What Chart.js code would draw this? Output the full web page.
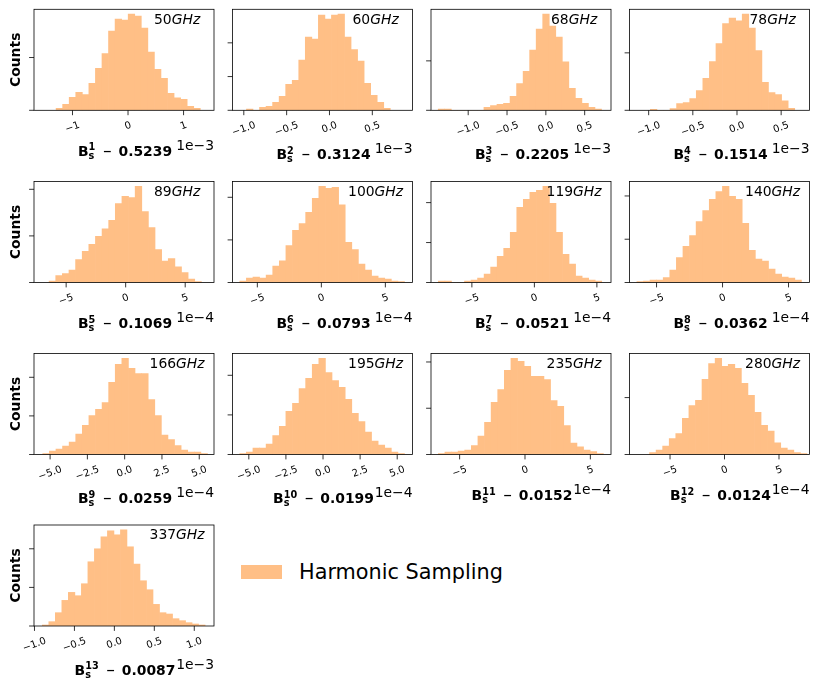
<!DOCTYPE html>
<html>
<head>
<meta charset="utf-8">
<script src="https://cdn.jsdelivr.net/npm/chart.js@4.4.0/dist/chart.umd.min.js"></script>
<style>
  html, body { margin: 0; padding: 0; background: #fff; }
  #fig { position: relative; width: 819px; height: 692px; overflow: hidden; }
  #fig canvas { position: absolute; left: 0; top: 0; }
  #legendPatch { position: absolute; left: 241px; top: 565px; width: 41px; height: 14px; }
  #legendText { position: absolute; left: 299px; top: 560px; line-height: 24px; font: 20.8px "DejaVu Sans"; color: #000; white-space: nowrap; }
</style>
</head>
<body>
<div id="fig">
  <div id="legendPatch"></div>
  <div id="legendText">Harmonic Sampling</div>
</div>
<script>
// per-panel data (x values are in units of 10^-exponent)
const freqs = ['50', '60', '68', '78', '89', '100', '119', '140', '166', '195', '235', '280', '337'];
const shifts = ['0.5239', '0.3124', '0.2205', '0.1514', '0.1069', '0.0793', '0.0521', '0.0362', '0.0259', '0.0199', '0.0152', '0.0124', '0.0087'];
const exponents = ['3', '3', '3', '3', '4', '4', '4', '4', '4', '4', '4', '4', '3'];
const xMin = [-1.693, -1.132, -1.479, -1.217, -7.70, -6.94, -8.27, -7.05, -6.08, -6.10, -7.19, -8.72, -1.006];
const xMax = [1.548, 0.969, 0.839, 0.821, 7.42, 7.12, 6.13, 6.59, 5.99, 6.03, 6.58, 7.80, 1.247];
const binStart = [-1.295, -0.969, -1.386, -0.981, -6.43, -6.37, -7.68, -6.49, -5.49, -5.61, -6.63, -6.88, -0.902];
const binWidth = [0.118, 0.0763, 0.0841, 0.0743, 0.556, 0.5146, 0.5227, 0.4987, 0.4417, 0.444, 0.505, 0.602, 0.0815];
const counts = [
  [6, 18, 39, 54, 47, 81, 126, 170, 237, 273, 270, 288, 282, 246, 174, 123, 96, 51, 37, 33, 12, 6],
  [4, 0, 9, 12, 24, 42, 78, 90, 150, 219, 213, 285, 273, 285, 288, 219, 182, 147, 81, 45, 24, 6],
  [4, 4, 0, 0, 0, 0, 0, 9, 14, 18, 21, 42, 80, 117, 180, 243, 288, 252, 219, 145, 66, 36, 21, 9, 4],
  [3, 0, 0, 5, 20, 23, 35, 59, 96, 146, 200, 260, 276, 268, 288, 246, 179, 84, 53, 47, 28, 6],
  [4, 21, 27, 37, 69, 94, 115, 139, 161, 187, 237, 259, 255, 289, 213, 165, 99, 64, 72, 47, 30, 10, 3],
  [4, 13, 16, 13, 22, 49, 65, 111, 157, 177, 211, 253, 289, 283, 286, 233, 121, 99, 55, 37, 19, 13, 10, 4, 3],
  [4, 4, 0, 0, 4, 7, 13, 25, 46, 79, 103, 151, 226, 250, 271, 277, 289, 238, 151, 85, 55, 19, 13, 7, 4],
  [3, 4, 7, 7, 15, 37, 75, 109, 141, 183, 216, 250, 273, 289, 259, 250, 178, 97, 70, 64, 40, 25, 16, 13, 7],
  [3, 10, 16, 25, 37, 61, 88, 117, 136, 156, 217, 271, 289, 259, 243, 243, 165, 117, 58, 45, 27, 13, 7, 7, 3],
  [3, 7, 19, 19, 31, 57, 85, 130, 154, 198, 229, 271, 289, 246, 222, 202, 166, 124, 99, 67, 40, 28, 19, 7, 3],
  [3, 7, 7, 10, 13, 27, 55, 97, 157, 195, 253, 289, 280, 265, 235, 235, 225, 162, 145, 87, 34, 23, 13, 9, 3],
  [6, 13, 25, 48, 63, 109, 147, 163, 226, 273, 289, 265, 271, 259, 214, 178, 127, 88, 70, 35, 19, 13, 6, 3],
  [3, 13, 40, 77, 101, 91, 127, 193, 232, 268, 286, 274, 289, 238, 186, 136, 109, 65, 40, 36, 22, 16, 10, 6, 3]
];
const xTickLabels = [
  ['\u22121', '0', '1'],
  ['\u22121.0', '\u22120.5', '0.0', '0.5'],
  ['\u22121.0', '\u22120.5', '0.0', '0.5'],
  ['\u22121.0', '\u22120.5', '0.0', '0.5'],
  ['\u22125', '0', '5'],
  ['\u22125', '0', '5'],
  ['\u22125', '0', '5'],
  ['\u22125', '0', '5'],
  ['\u22125.0', '\u22122.5', '0.0', '2.5', '5.0'],
  ['\u22125.0', '\u22122.5', '0.0', '2.5', '5.0'],
  ['\u22125', '0', '5'],
  ['\u22125', '0', '5'],
  ['\u22121.0', '\u22120.5', '0.0', '0.5', '1.0']
];
const yTickValues = [
  [0, 158], [0, 101, 202], [0, 148], [0, 172],
  [0, 140, 280], [0, 128, 256], [0, 120, 240], [0, 130, 260],
  [0, 116, 232], [0, 119, 238], [0, 139, 278], [0, 171],
  [0, 116, 232]
];
const seriesName = 'Harmonic Sampling';

// layout / style
const FIG_W = 819, FIG_H = 692;
const colLeft = [34, 232.5, 431, 629.5];
const rowTop = [9.3, 181.5, 353.5, 525];
const AX_W = 180, AX_H = 101;
const TICK = 4.9;
const FONT = '"DejaVu Sans"';
const TICK_FS = 10;
const barColor = '#ffbf86';
const ROT = 20 * Math.PI / 180;

document.getElementById('legendPatch').style.background = barColor;
document.getElementById('legendText').textContent = seriesName;

const toNum = s => parseFloat(s.replace('\u2212', '-'));

function drawXLabel(ctx, i, cx, base) {
  const big = 'bold 13.9px ' + FONT, small = 'bold 9.7px ' + FONT, mid = 'bold 11px ' + FONT;
  const sup = String(i + 1);
  ctx.font = big;
  const wB = ctx.measureText('B').width;
  const wNum = ctx.measureText(shifts[i]).width;
  ctx.font = small;
  const wS = Math.max(ctx.measureText(sup).width, ctx.measureText('s').width);
  ctx.font = mid;
  const wM = ctx.measureText('\u2212').width;
  const g1 = 7.5, g2 = 6.5;
  const total = wB + wS + g1 + wM + g2 + wNum;
  let x = cx - total / 2 + 1;
  ctx.textAlign = 'left';
  ctx.textBaseline = 'alphabetic';
  ctx.font = big;
  ctx.fillText('B', x, base);
  x += wB;
  ctx.font = small;
  ctx.fillText(sup, x, base - 5.5);
  ctx.fillText('s', x, base + 3);
  x += wS + g1;
  ctx.font = mid;
  ctx.fillText('\u2212', x, base - 1.2);
  x += wM + g2;
  ctx.font = big;
  ctx.fillText(shifts[i], x, base);
}

function decor(i) {
  return {
    id: 'decor' + i,
    afterDraw(chart) {
      const ctx = chart.ctx, a = chart.chartArea;
      const xs = chart.scales.x, ys = chart.scales.y;
      ctx.save();
      ctx.strokeStyle = '#000';
      ctx.fillStyle = '#000';
      ctx.lineWidth = 0.8;
      ctx.strokeRect(a.left, a.top, a.right - a.left, a.bottom - a.top);
      ctx.beginPath();
      xs.ticks.forEach(t => {
        const p = xs.getPixelForValue(t.value);
        ctx.moveTo(p, a.bottom);
        ctx.lineTo(p, a.bottom + TICK);
      });
      ys.ticks.forEach(t => {
        const p = ys.getPixelForValue(t.value);
        ctx.moveTo(a.left - TICK, p);
        ctx.lineTo(a.left, p);
      });
      ctx.stroke();

      // rotated tick labels, centred on their tick
      ctx.font = TICK_FS + 'px ' + FONT;
      ctx.textAlign = 'center';
      ctx.textBaseline = 'middle';
      let maxH = 0;
      xs.ticks.forEach(t => {
        const p = xs.getPixelForValue(t.value);
        const w = ctx.measureText(t.label).width, h = TICK_FS * 1.16;
        const rh = w * Math.sin(ROT) + h * Math.cos(ROT);
        maxH = Math.max(maxH, rh);
        ctx.save();
        ctx.translate(p, a.bottom + 9.2 + rh / 2);
        ctx.rotate(-ROT);
        ctx.fillText(t.label, 0, 0);
        ctx.restore();
      });
      const tickBottom = a.bottom + 9.2 + maxH;

      // offset text
      ctx.font = '13.9px ' + FONT;
      ctx.textAlign = 'right';
      ctx.textBaseline = 'alphabetic';
      ctx.fillText('1e\u2212' + exponents[i], a.right, tickBottom + 14.5);

      // axis label
      drawXLabel(ctx, i, (a.left + a.right) / 2, tickBottom + 20.5);

      // frequency tag
      const num = freqs[i], unit = 'GHz';
      ctx.font = '13.9px ' + FONT;
      const wn = ctx.measureText(num).width;
      ctx.font = 'italic 13.9px ' + FONT;
      const wu = ctx.measureText(unit).width;
      const tx = a.left + 0.795 * (a.right - a.left) - (wn + wu) / 2;
      const ty = a.top + 0.105 * (a.bottom - a.top);
      ctx.textAlign = 'left';
      ctx.textBaseline = 'middle';
      ctx.font = '13.9px ' + FONT;
      ctx.fillText(num, tx, ty);
      ctx.font = 'italic 13.9px ' + FONT;
      ctx.fillText(unit, tx + wn, ty);

      // y label on the first column
      if (i % 4 === 0) {
        ctx.save();
        ctx.translate(16.7, (a.top + a.bottom) / 2);
        ctx.rotate(-Math.PI / 2);
        ctx.font = 'bold 13.9px ' + FONT;
        ctx.textAlign = 'center';
        ctx.textBaseline = 'middle';
        ctx.fillText('Counts', 0, 0);
        ctx.restore();
      }
      ctx.restore();
    }
  };
}

const fig = document.getElementById('fig');
counts.forEach((c, i) => {
  const left = colLeft[i % 4], top = rowTop[Math.floor(i / 4)];
  const canvas = document.createElement('canvas');
  canvas.width = FIG_W;
  canvas.height = FIG_H;
  fig.appendChild(canvas);

  const pts = c.map((v, k) => ({ x: binStart[i] + (k + 0.5) * binWidth[i], y: v }));

  new Chart(canvas, {
    type: 'bar',
    data: {
      datasets: [{
        label: seriesName,
        data: pts,
        backgroundColor: barColor,
        borderWidth: 0,
        barPercentage: 1,
        categoryPercentage: 1
      }]
    },
    options: {
      responsive: false,
      animation: false,
      devicePixelRatio: 1,
      events: [],
      layout: {
        padding: { left: left, top: top, right: FIG_W - left - AX_W, bottom: FIG_H - top - AX_H }
      },
      plugins: { legend: { display: false }, tooltip: { enabled: false } },
      scales: {
        x: {
          type: 'linear',
          min: xMin[i],
          max: xMax[i],
          offset: false,
          grid: { display: false, drawTicks: false },
          border: { display: false },
          ticks: { display: false, callback: (v, k) => xTickLabels[i][k] },
          afterBuildTicks: s => { s.ticks = xTickLabels[i].map(t => ({ value: toNum(t) })); }
        },
        y: {
          min: 0,
          max: Math.max(...c) * 1.05,
          grid: { display: false, drawTicks: false },
          border: { display: false },
          ticks: { display: false },
          afterBuildTicks: s => { s.ticks = yTickValues[i].map(v => ({ value: v })); }
        }
      }
    },
    plugins: [decor(i)]
  });
});
</script>
</body>
</html>
